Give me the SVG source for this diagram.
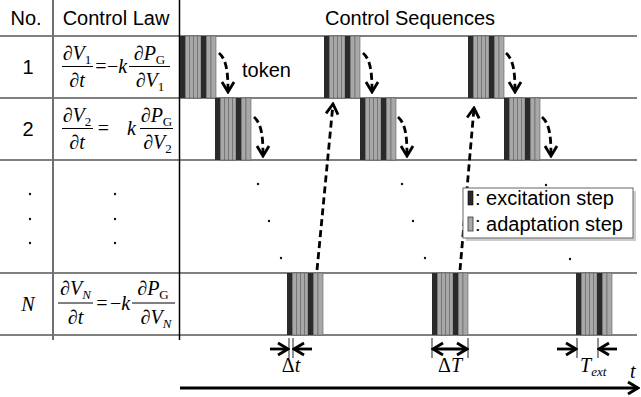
<svg xmlns="http://www.w3.org/2000/svg" xmlns:xlink="http://www.w3.org/1999/xlink" width="641" height="397" viewBox="0 0 641 397">
<style>
.hl{stroke:#808080;stroke-width:2;fill:none}
.sans{font-family:"Liberation Sans",Arial,sans-serif;fill:#000}
.math{font-family:"Liberation Serif","Times New Roman",serif;font-size:20px;fill:#000}
.it{font-style:italic}
.bar{stroke:#000;stroke-width:1}
.dk{fill:#2a2a2a}
.gr{fill:#a8a8a8;stroke:#606060;stroke-width:0.6}
.dash{fill:none;stroke:#000;stroke-width:2.8;stroke-dasharray:7 4}
.dim{fill:none;stroke:#000;stroke-width:2.8}
.tick{stroke:#555;stroke-width:1.3}
.dot{fill:#111}
</style>
<defs>
<marker id="ah" viewBox="0 0 14 16" refX="12" refY="8" markerWidth="14" markerHeight="16" markerUnits="userSpaceOnUse" orient="auto">
<path d="M2,2 L12,8 L2,14" fill="none" stroke="#000" stroke-width="2.8" stroke-dasharray="none"/>
</marker>
<marker id="ahs" viewBox="0 0 14 16" refX="12" refY="8" markerWidth="14" markerHeight="16" markerUnits="userSpaceOnUse" orient="auto-start-reverse">
<path d="M2,2 L12,8 L2,14" fill="none" stroke="#000" stroke-width="2.8"/>
</marker>
<g id="blk">
<rect class="dk" x="0" y="0" width="5.5" height="62"/>
<rect class="gr" x="5.5" y="0" width="4" height="62"/>
<rect class="gr" x="9.5" y="0" width="4" height="62"/>
<rect class="gr" x="13.5" y="0" width="4" height="62"/>
<rect class="gr" x="17.5" y="0" width="3.5" height="62"/>
<rect class="dk" x="21" y="0" width="5.5" height="62"/>
<rect class="gr" x="26.5" y="0" width="4.5" height="62"/>
<rect class="gr" x="31" y="0" width="5" height="62"/>
</g>
</defs>
<rect x="0" y="0" width="641" height="397" fill="#fff"/>

<g id="table">
<line class="hl" x1="0" y1="36" x2="637" y2="36"/>
<line class="hl" x1="0" y1="98" x2="637" y2="98"/>
<line class="hl" x1="0" y1="160" x2="637" y2="160"/>
<line class="hl" x1="0" y1="273" x2="637" y2="273"/>
<line class="hl" x1="0" y1="335" x2="637" y2="335"/>
<line x1="53" y1="0" x2="53" y2="340" stroke="#707070" stroke-width="2"/>
<line x1="179.5" y1="0" x2="179.5" y2="340" stroke="#000" stroke-width="1.5"/>
</g>

<g id="header" class="sans" font-size="20">
<text x="26" y="25" text-anchor="middle">No.</text>
<text x="116" y="25" text-anchor="middle">Control Law</text>
<text x="410" y="25" text-anchor="middle">Control Sequences</text>
</g>

<g id="row1">
<text class="sans" x="28" y="74" font-size="20" text-anchor="middle">1</text>
<text class="math" x="77" y="60" text-anchor="middle"><tspan class="it">∂V</tspan><tspan font-size="13" dy="4">1</tspan></text>
<line class="bar" x1="62" y1="66.5" x2="93" y2="66.5"/>
<text class="math it" x="77" y="87" text-anchor="middle">∂t</text>
<text class="math" x="101" y="73" text-anchor="middle">=</text>
<text class="math" x="107" y="73">−<tspan class="it">k</tspan></text>
<text class="math" x="149.5" y="60" text-anchor="middle"><tspan class="it">∂P</tspan><tspan font-size="13" dy="4">G</tspan></text>
<line class="bar" x1="129" y1="66.5" x2="170" y2="66.5"/>
<text class="math" x="150" y="87" text-anchor="middle"><tspan class="it">∂V</tspan><tspan font-size="13" dy="4">1</tspan></text>
</g>

<g id="row2">
<text class="sans" x="28" y="136" font-size="20" text-anchor="middle">2</text>
<text class="math" x="77" y="122" text-anchor="middle"><tspan class="it">∂V</tspan><tspan font-size="13" dy="4">2</tspan></text>
<line class="bar" x1="62" y1="128.5" x2="93" y2="128.5"/>
<text class="math it" x="77" y="149" text-anchor="middle">∂t</text>
<text class="math" x="103.5" y="135" text-anchor="middle">=</text>
<text class="math it" x="127" y="135">k</text>
<text class="math" x="156.5" y="122" text-anchor="middle"><tspan class="it">∂P</tspan><tspan font-size="13" dy="4">G</tspan></text>
<line class="bar" x1="140" y1="128.5" x2="173" y2="128.5"/>
<text class="math" x="157.5" y="149" text-anchor="middle"><tspan class="it">∂V</tspan><tspan font-size="13" dy="4">2</tspan></text>
</g>

<g id="rowDots">
<circle class="dot" cx="30" cy="194" r="1.2"/>
<circle class="dot" cx="30" cy="219" r="1.2"/>
<circle class="dot" cx="30" cy="243" r="1.2"/>
<circle class="dot" cx="115" cy="194" r="1.2"/>
<circle class="dot" cx="115" cy="219" r="1.2"/>
<circle class="dot" cx="115" cy="243" r="1.2"/>
<circle class="dot" cx="258" cy="184" r="1.2"/>
<circle class="dot" cx="269" cy="221" r="1.2"/>
<circle class="dot" cx="281" cy="258" r="1.2"/>
<circle class="dot" cx="402" cy="184" r="1.2"/>
<circle class="dot" cx="413" cy="221" r="1.2"/>
<circle class="dot" cx="425" cy="258" r="1.2"/>
<circle class="dot" cx="546" cy="185" r="1.2"/>
<circle class="dot" cx="570" cy="259" r="1.2"/>
</g>

<g id="rowN">
<text class="math it" x="28" y="311" font-size="22" text-anchor="middle">N</text>
<text class="math" x="75.5" y="295" text-anchor="middle"><tspan class="it">∂V</tspan><tspan class="it" font-size="13" dy="4">N</tspan></text>
<line class="bar" x1="58" y1="303" x2="93" y2="303"/>
<text class="math it" x="75.5" y="324" text-anchor="middle">∂t</text>
<text class="math" x="102" y="310" text-anchor="middle">=</text>
<text class="math" x="110" y="310">−<tspan class="it">k</tspan></text>
<text class="math" x="153" y="295" text-anchor="middle"><tspan class="it">∂P</tspan><tspan font-size="13" dy="4">G</tspan></text>
<line class="bar" x1="132" y1="303" x2="175" y2="303"/>
<text class="math" x="156" y="324" text-anchor="middle"><tspan class="it">∂V</tspan><tspan class="it" font-size="13" dy="4">N</tspan></text>
</g>

<g id="blocks">
<use xlink:href="#blk" href="#blk" x="180" y="36"/>
<use xlink:href="#blk" href="#blk" x="324" y="36"/>
<use xlink:href="#blk" href="#blk" x="468" y="36"/>
<use xlink:href="#blk" href="#blk" x="215" y="98"/>
<use xlink:href="#blk" href="#blk" x="360" y="98"/>
<use xlink:href="#blk" href="#blk" x="504" y="98"/>
<use xlink:href="#blk" href="#blk" x="287" y="273"/>
<use xlink:href="#blk" href="#blk" x="432" y="273"/>
<use xlink:href="#blk" href="#blk" x="576" y="273"/>
</g>

<g id="connectors">
<path class="dash" d="M219,53 C227,60 228,74 228,92" marker-end="url(#ah)"/>
<path class="dash" d="M363,53 C371,60 372,74 372,92" marker-end="url(#ah)"/>
<path class="dash" d="M506,53 C514,60 515,74 515,92" marker-end="url(#ah)"/>
<path class="dash" d="M254,117 C262,124 263,138 263,156" marker-end="url(#ah)"/>
<path class="dash" d="M398,117 C406,124 407,138 407,156" marker-end="url(#ah)"/>
<path class="dash" d="M542,117 C550,124 551,138 551,156" marker-end="url(#ah)"/>
<path class="dash" d="M317,270 L333,104" marker-end="url(#ah)"/>
<path class="dash" d="M460,270 L474,108" marker-end="url(#ah)"/>
</g>

<text id="token" class="sans" x="242" y="77" font-size="20">token</text>

<g id="legend">
<rect x="466" y="191" width="170" height="50" fill="#aaa" opacity="0.6"/>
<rect x="463" y="188" width="170" height="50" fill="#fff" stroke="#666" stroke-width="1"/>
<rect x="468" y="191" width="5" height="14" fill="#2a2a2a" stroke="#000" stroke-width="0.6"/>
<rect x="468" y="217" width="5" height="14" fill="#aaa" stroke="#333" stroke-width="0.8"/>
<text class="sans" x="475" y="205" font-size="20">: excitation step</text>
<text class="sans" x="475" y="231" font-size="20">: adaptation step</text>
</g>

<g id="dimensions">
<line class="tick" x1="289" y1="338" x2="289" y2="358"/>
<line class="tick" x1="293" y1="338" x2="293" y2="358"/>
<path class="dim" d="M270,349 L288,349" marker-end="url(#ah)"/>
<path class="dim" d="M312,349 L294,349" marker-end="url(#ah)"/>
<text class="math" x="291" y="372" font-size="20" text-anchor="middle">Δ<tspan class="it">t</tspan></text>

<line class="tick" x1="432" y1="338" x2="432" y2="358"/>
<line class="tick" x1="468" y1="338" x2="468" y2="358"/>
<path class="dim" d="M433,349 L467,349" marker-start="url(#ahs)" marker-end="url(#ahs)"/>
<text class="math" x="450" y="372" font-size="20" text-anchor="middle">Δ<tspan class="it">T</tspan></text>

<line class="tick" x1="577" y1="338" x2="577" y2="358"/>
<line class="tick" x1="598" y1="338" x2="598" y2="358"/>
<path class="dim" d="M557,349 L576,349" marker-end="url(#ah)"/>
<path class="dim" d="M617,349 L599,349" marker-end="url(#ah)"/>
<text class="math it" x="580" y="372" font-size="20">T<tspan font-size="13" dy="4">ext</tspan></text>
</g>

<g id="axis">
<path d="M180,388 L638,388" fill="none" stroke="#000" stroke-width="3" marker-end="url(#ah)"/>
<text class="math it" x="630" y="378" font-size="20">t</text>
</g>
</svg>
